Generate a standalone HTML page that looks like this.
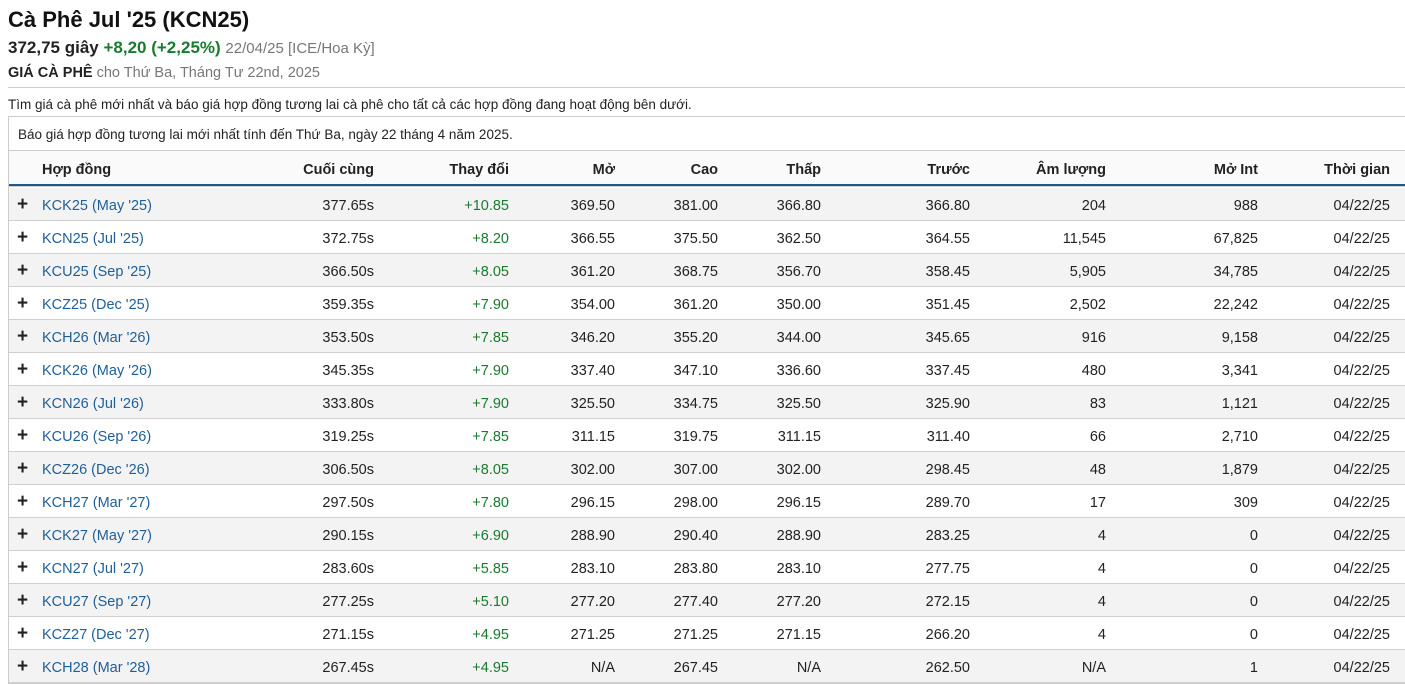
<!DOCTYPE html>
<html><head><meta charset="utf-8"><style>
body{margin:0;width:1405px;height:685px;background:#fff;font-family:"Liberation Sans","DejaVu Sans",sans-serif;color:#222;position:relative;overflow:hidden}
.a{position:absolute;white-space:nowrap}
.r{position:absolute;left:9px;width:1396px;height:32px;border-bottom:1px solid #d0d0d0}
.c{position:absolute;top:2px;line-height:33px;font-size:14.5px;text-align:right;white-space:nowrap}
.g{color:#1a7a2e}
.l{color:#1f5f98}
.h{font-weight:bold;color:#222}
</style></head><body>
<div class="a" style="left:8px;top:7px;font-size:22px;font-weight:bold;color:#111">Cà Phê Jul '25 (KCN25)</div>
<div class="a" style="left:8px;top:38px;font-size:17px"><b>372,75 giây</b> <b class="g">+8,20 (+2,25%)</b> <span style="color:#777;font-size:15px">22/04/25 [ICE/Hoa Kỳ]</span></div>
<div class="a" style="left:8px;top:65px;font-size:14.5px;color:#777"><b style="color:#222">GIÁ CÀ PHÊ</b> cho Thứ Ba, Tháng Tư 22nd, 2025</div>
<div class="a" style="left:8px;top:87px;width:1397px;height:1px;background:#ccc"></div>
<div class="a" style="left:8px;top:97px;font-size:13.5px">Tìm giá cà phê mới nhất và báo giá hợp đồng tương lai cà phê cho tất cả các hợp đồng đang hoạt động bên dưới.</div>
<div class="a" style="left:8px;top:116px;width:1397px;height:568px;border:1px solid #ccc;border-right:none;box-sizing:border-box"></div>
<div class="a" style="left:18px;top:127px;font-size:13.5px">Báo giá hợp đồng tương lai mới nhất tính đến Thứ Ba, ngày 22 tháng 4 năm 2025.</div>
<div class="a" style="left:9px;top:150px;width:1396px;height:34px;background:#fafafa;border-top:1px solid #ccc"></div>
<div class="a" style="left:9px;top:184px;width:1396px;height:2px;background:#1f5a8c"></div>
<div class="a" style="left:9px;top:186px;width:1396px;height:1px;background:#ccc"></div>
<div id="t"></div>
<script>
var H=['Hợp đồng','Cuối cùng','Thay đổi','Mở','Cao','Thấp','Trước','Âm lượng','Mở Int','Thời gian'];
var R=[365,500,606,709,812,961,1097,1249,1381];
var D=[
['KCK25 (May \'25)','377.65s','+10.85','369.50','381.00','366.80','366.80','204','988'],
['KCN25 (Jul \'25)','372.75s','+8.20','366.55','375.50','362.50','364.55','11,545','67,825'],
['KCU25 (Sep \'25)','366.50s','+8.05','361.20','368.75','356.70','358.45','5,905','34,785'],
['KCZ25 (Dec \'25)','359.35s','+7.90','354.00','361.20','350.00','351.45','2,502','22,242'],
['KCH26 (Mar \'26)','353.50s','+7.85','346.20','355.20','344.00','345.65','916','9,158'],
['KCK26 (May \'26)','345.35s','+7.90','337.40','347.10','336.60','337.45','480','3,341'],
['KCN26 (Jul \'26)','333.80s','+7.90','325.50','334.75','325.50','325.90','83','1,121'],
['KCU26 (Sep \'26)','319.25s','+7.85','311.15','319.75','311.15','311.40','66','2,710'],
['KCZ26 (Dec \'26)','306.50s','+8.05','302.00','307.00','302.00','298.45','48','1,879'],
['KCH27 (Mar \'27)','297.50s','+7.80','296.15','298.00','296.15','289.70','17','309'],
['KCK27 (May \'27)','290.15s','+6.90','288.90','290.40','288.90','283.25','4','0'],
['KCN27 (Jul \'27)','283.60s','+5.85','283.10','283.80','283.10','277.75','4','0'],
['KCU27 (Sep \'27)','277.25s','+5.10','277.20','277.40','277.20','272.15','4','0'],
['KCZ27 (Dec \'27)','271.15s','+4.95','271.25','271.25','271.15','266.20','4','0'],
['KCH28 (Mar \'28)','267.45s','+4.95','N/A','267.45','N/A','262.50','N/A','1']];
var s='<div class="r" style="top:152px;height:33px;border:none">';
s+='<div class="c h" style="left:33px;text-align:left">'+H[0]+'</div>';
for(var i=1;i<10;i++)s+='<div class="c h" style="right:'+(1396-R[i-1])+'px">'+H[i]+'</div>';
s+='</div>';
D.forEach(function(d,k){
 s+='<div class="r" style="top:'+(188+k*33)+'px;background:'+(k%2?'#fff':'#f3f3f3')+'">';
 s+='<div class="c" style="left:8px;font-weight:bold;font-size:19px;line-height:29px">+</div>';
 s+='<div class="c l" style="left:33px;text-align:left">'+d[0]+'</div>';
 for(var i=1;i<9;i++)s+='<div class="c'+(i==2?' g':'')+'" style="right:'+(1396-R[i-1])+'px">'+d[i]+'</div>';
 s+='<div class="c" style="right:'+(1396-R[8])+'px">04/22/25</div></div>';
});
document.getElementById('t').innerHTML=s;
</script>
</body></html>
